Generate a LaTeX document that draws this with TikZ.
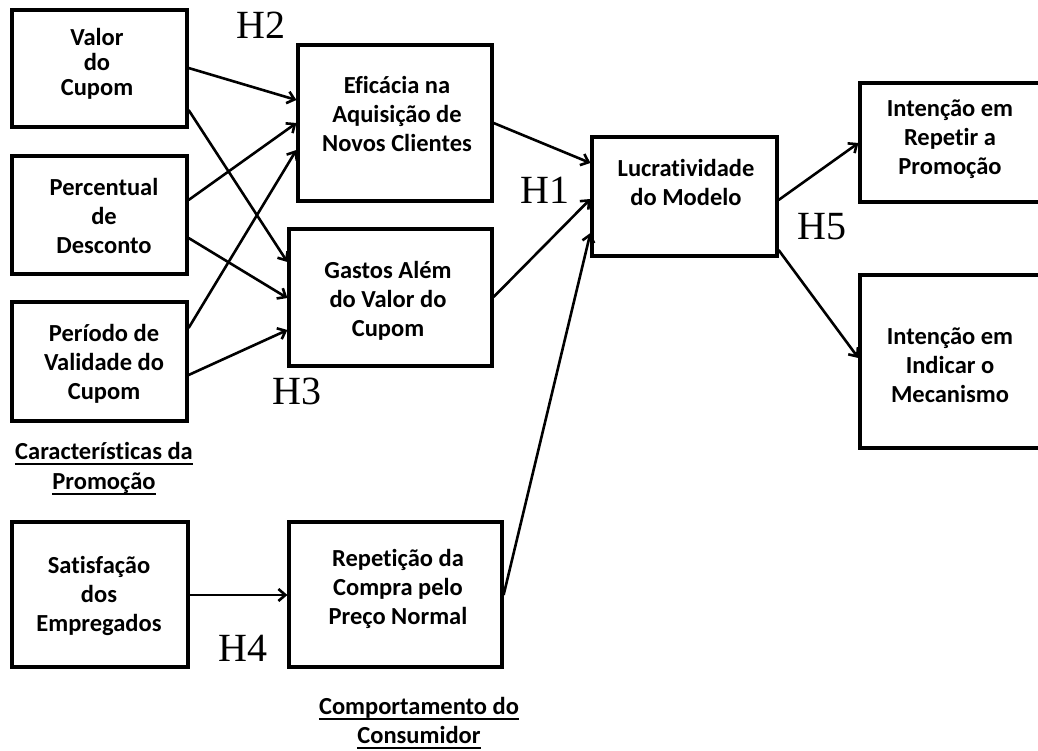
\documentclass[tikz,border=0pt]{standalone}
\usepackage{fontspec}
\setmainfont{Carlito}[Ligatures=NoCommon]
\newfontfamily\hypfont{Liberation Serif}
\usetikzlibrary{arrows.meta}

\begin{document}
\begin{tikzpicture}[x=1pt,y=-1pt,
  box/.style={draw, line width=3.2pt, inner sep=0pt},
  txt/.style={font=\bfseries\fontsize{24.5}{29}\selectfont, align=center, inner sep=0pt},
  grouptitle/.style={txt, anchor=base},
  uline/.style={line width=2.2pt},
  hyp/.style={font=\hypfont\fontsize{40}{40}\selectfont, inner sep=0pt},
  link/.style={line width=2.6pt, -{Straight Barb[length=7pt,width=12pt]}}]

\useasboundingbox (0,0) rectangle (1038,751);
\clip (0,0) rectangle (1038,751);

% ---- boxes ----
\node[box, minimum width=175pt, minimum height=117pt] (val)  at (99.5,68.5) {};
\node[box, minimum width=175pt, minimum height=118pt] (per)  at (99.5,215) {};
\node[box, minimum width=175pt, minimum height=119pt] (peri) at (99.5,361.5) {};
\node[box, minimum width=176pt, minimum height=145pt] (sat)  at (100,594.5) {};
\node[box, minimum width=194pt, minimum height=156pt] (efi)  at (395,123) {};
\node[box, minimum width=203pt, minimum height=137pt] (gas)  at (390.5,297.5) {};
\node[box, minimum width=213pt, minimum height=145pt] (rep)  at (395.5,594.5) {};
\node[box, minimum width=185pt, minimum height=119pt] (luc)  at (684.5,196.5) {};
\node[box, minimum width=190pt, minimum height=119pt] (rpt)  at (955,142.5) {};
\node[box, minimum width=190pt, minimum height=173pt] (ind)  at (955,361.5) {};

% ---- box texts ----
\node[txt, font=\bfseries\fontsize{24.5}{25}\selectfont] (valt) at (97,64) {Valor\\do\\Cupom};
\node[txt] (pert)  at (104,216) {Percentual\\de\\Desconto};
\node[txt] (perit) at (104,364) {Período de\\Validade do\\Cupom};
\node[txt] (satt)  at (99,596) {Satisfação\\dos\\Empregados};
\node[txt] (efit)  at (397,114) {Eficácia na\\Aquisição de\\Novos Clientes};
\node[txt] (gast)  at (388,301) {Gastos Além\\do Valor do\\Cupom};
\node[txt] (rept)  at (398,589) {Repetição da\\Compra pelo\\Preço Normal};
\node[txt] (luct)  at (686,182) {Lucratividade\\do Modelo};
\node[txt] (rptt)  at (950,139) {Intenção em\\Repetir a\\Promoção};
\node[txt] (indt)  at (950,365) {Intenção em\\Indicar o\\Mecanismo};

% ---- group captions (underlined) ----
\node[grouptitle] (capA1) at (104,459) {Características da};
\node[grouptitle] (capA2) at (104,489) {Promoção};
\node[grouptitle] (capB1) at (419,714) {Comportamento do};
\node[grouptitle] (capB2) at (419,743) {Consumidor};
\foreach \c in {capA1,capA2,capB1,capB2}
  \draw[uline] ([yshift=-5pt]\c.base west) -- ([yshift=-5pt]\c.base east);

% ---- hypothesis labels ----
\node[hyp] (h2) at (261,25) {H2};
\node[hyp] (h3) at (297,391) {H3};
\node[hyp] (h1) at (545,190) {H1};
\node[hyp] (h5) at (822,227) {H5};
\node[hyp] (h4) at (243,648) {H4};

% ---- connectors ----
\draw[link] (val.east |- 0,68)   -- (efi.west |- 0,100);
\draw[link] (val.east |- 0,110)  -- (gas.west |- 0,262);
\draw[link] (per.east |- 0,200)  -- (efi.west |- 0,123);
\draw[link] (per.east |- 0,238)  -- (gas.west |- 0,298);
\draw[link] (peri.east |- 0,328) -- (efi.west |- 0,150);
\draw[link] (peri.east |- 0,375) -- (gas.west |- 0,330);
\draw[link] (efi.east |- 0,123)  -- (luc.west |- 0,163);
\draw[link] (gas.east |- 0,297)  -- (luc.west |- 0,199);
\draw[link] (rep.east |- 0,595)  -- (luc.west |- 0,233);
\draw[link] (sat.east |- 0,595)  -- (rep.west |- 0,595);
\draw[link] (luc.east |- 0,200)  -- (rpt.west |- 0,143);
\draw[link] (luc.east |- 0,250)  -- (ind.west |- 0,358);
\end{tikzpicture}
\end{document}
